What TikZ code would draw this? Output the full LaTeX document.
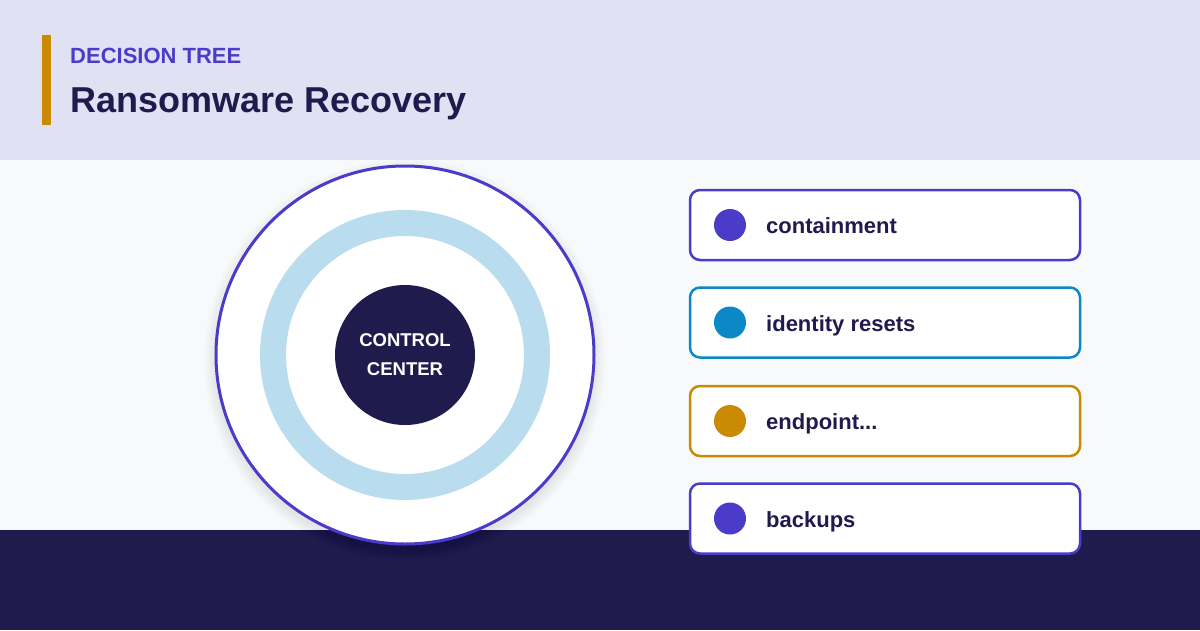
\documentclass[tikz,border=0pt]{standalone}
\usepackage{fontspec}
\setmainfont{Liberation Sans}
\definecolor{headbg}{HTML}{E0E2F4}
\definecolor{bodybg}{HTML}{F7F9FB}
\definecolor{navy}{HTML}{201B4D}
\definecolor{purp}{HTML}{4A3CC8}
\definecolor{skyb}{HTML}{0C88C7}
\definecolor{gold}{HTML}{CB8A04}
\definecolor{ringb}{HTML}{B9DDEE}
\tikzset{
  itembox/.style={rectangle, rounded corners=10pt, minimum width=390pt, minimum height=70pt, fill=white, line width=2.5pt, inner sep=0pt},
  itemdot/.style={circle, minimum size=32pt, inner sep=0pt},
  itemlbl/.style={anchor=base west, inner sep=0pt, text=navy, font=\fontsize{22}{26}\selectfont\bfseries},
}
\begin{document}
\begin{tikzpicture}[x=1pt,y=-1pt]
\useasboundingbox (0,0) rectangle (1200,630);
\fill[headbg] (0,0) rectangle (1200,160);
\fill[bodybg] (0,160) rectangle (1200,530);
\fill[navy] (0,530) rectangle (1200,630);
\fill[gold] (42,35) rectangle (51,125);
\node[anchor=base west, inner sep=0pt, text=purp, font=\fontsize{22}{26}\selectfont\bfseries] (kicker) at (70,63) {DECISION TREE};
\node[anchor=base west, inner sep=0pt, text=navy, font=\fontsize{36}{42}\selectfont\bfseries] (title) at (70,112) {Ransomware Recovery};
% shadow
\foreach \i in {1,...,10}{
  \fill[black, opacity=0.008] (405,360) circle[radius=189+\i*1.2];
}
\node[circle, minimum size=378pt, inner sep=0pt, draw=purp, line width=3pt, fill=white] (outer) at (405,355) {};
\draw[ringb, line width=26pt] (outer.center) circle[radius=132];
\node[circle, minimum size=140pt, inner sep=0pt, fill=navy, text=white, align=center, font=\fontsize{18.5}{29}\selectfont\bfseries] (core) at (outer.center) {CONTROL\\CENTER};
% items
\node[itembox, draw=purp] (b1) at (885,225) {};
\node[itemdot, fill=purp] (d1) at (730,225) {};
\node[itemlbl] (t1) at (766,233.5) {containment};
\node[itembox, draw=skyb] (b2) at (885,322.5) {};
\node[itemdot, fill=skyb] (d2) at (730,322.5) {};
\node[itemlbl] (t2) at (766,331) {identity resets};
\node[itembox, draw=gold] (b3) at (885,421) {};
\node[itemdot, fill=gold] (d3) at (730,421) {};
\node[itemlbl] (t3) at (766,429.5) {endpoint...};
\node[itembox, draw=purp] (b4) at (885,518.5) {};
\node[itemdot, fill=purp] (d4) at (730,518.5) {};
\node[itemlbl] (t4) at (766,527) {backups};
\end{tikzpicture}
\end{document}
